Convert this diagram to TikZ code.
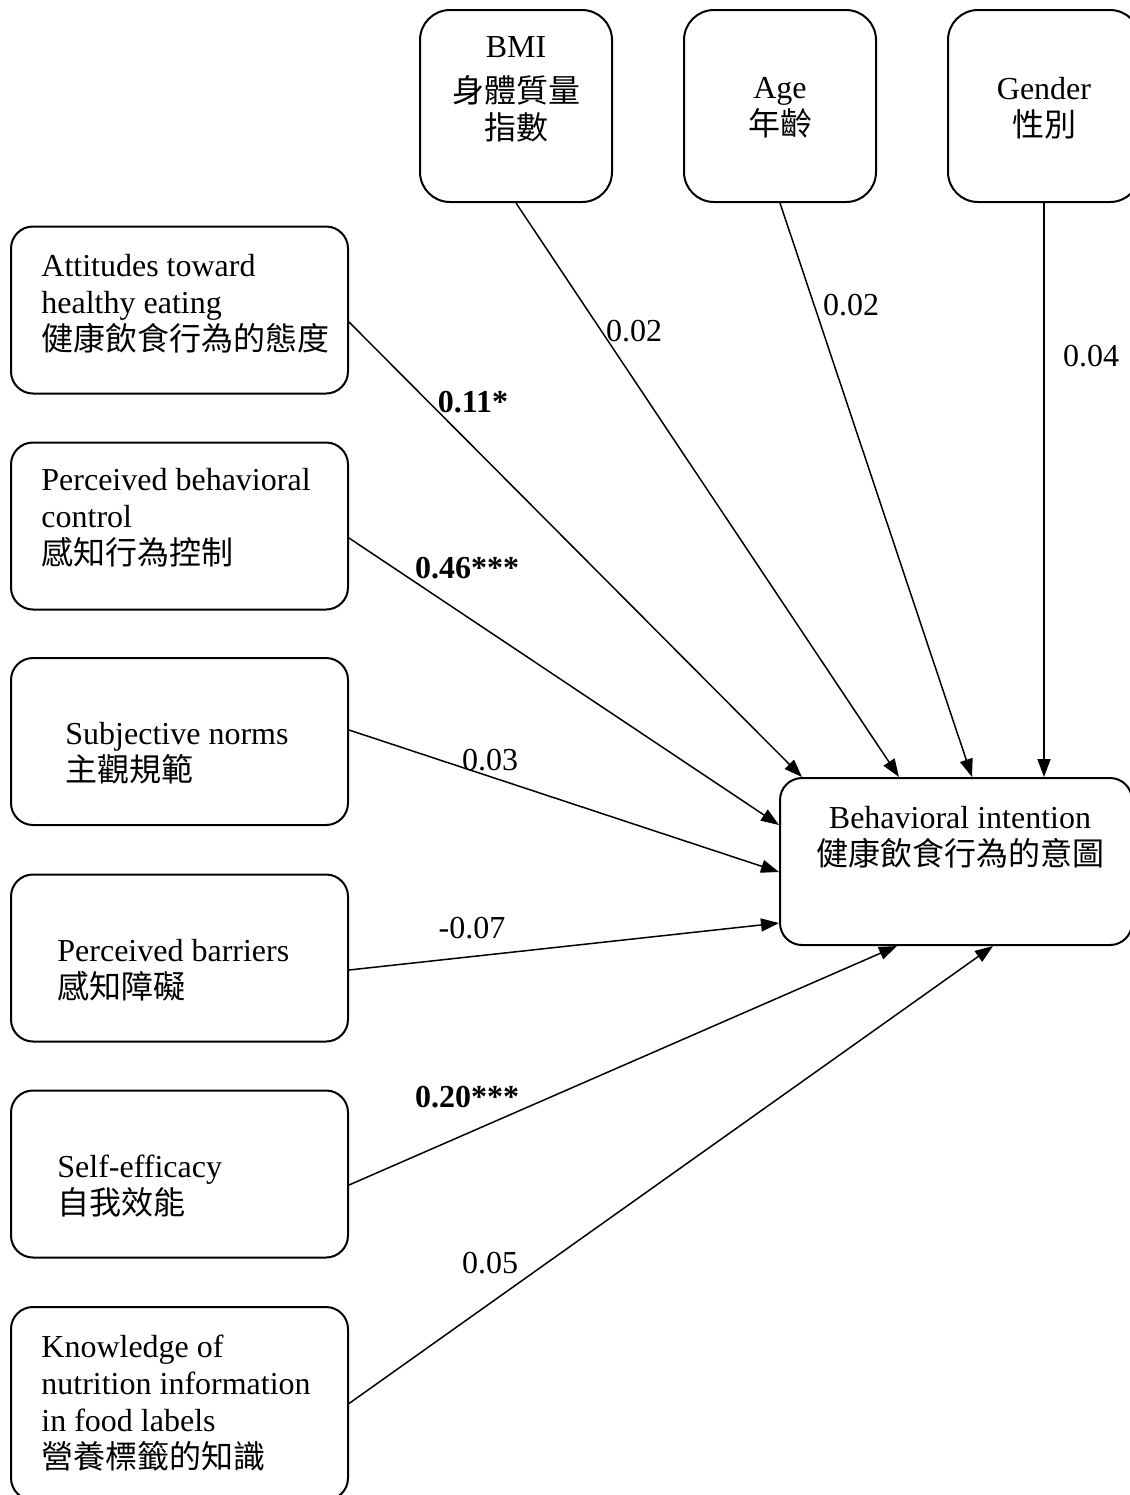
\documentclass[tikz,border=0pt]{standalone}
\usepackage{fontspec}
\setmainfont{Liberation Serif}
\newfontfamily\cjk{Noto Sans CJK TC}
\usetikzlibrary{arrows.meta}

\begin{document}
\begin{tikzpicture}[x=0.5pt, y=-0.5pt,
  every node/.style={font=\fontsize{16}{18.5}\selectfont, inner sep=0pt},
  box/.style={draw, line width=1pt, rounded corners=11pt, minimum width=168.5pt, minimum height=83.5pt},
  topbox/.style={draw, line width=1pt, rounded corners=15pt, minimum width=96pt, minimum height=96pt},
  txt/.style={align=left, anchor=west},
  ctxt/.style={align=center},
  path/.style={line width=0.75pt, -{Triangle[length=9pt,width=6.5pt]}}]
 \useasboundingbox (0,0) rectangle (1130,1495);
 \clip (0,0) rectangle (1130,1495);

 % left column
 \node[box] (att) at (179.5,310) {};
 \node[box] (pbc) at (179.5,526) {};
 \node[box] (sn) at (179.5,741.5) {};
 \node[box] (bar) at (179.5,958) {};
 \node[box] (se) at (179.5,1174) {};
 \node[box, minimum height=96.5pt] (kn) at (179.5,1403.5) {};
 \node[txt] (atttxt) at (41,304) {Attitudes toward\\healthy eating\\{\cjk 健康飲食行為的態度}};
 \node[txt] (pbctxt) at (41,518) {Perceived behavioral\\control\\{\cjk 感知行為控制}};
 \node[txt] (sntxt) at (65,753) {Subjective norms\\{\cjk 主觀規範}};
 \node[txt] (bartxt) at (57,970) {Perceived barriers\\{\cjk 感知障礙}};
 \node[txt] (setxt) at (57,1186) {Self-efficacy\\{\cjk 自我效能}};
 \node[txt] (kntxt) at (41,1403) {Knowledge of\\nutrition information\\in food labels\\{\cjk 營養標籤的知識}};

 % top row
 \node[topbox] (bmi) at (516,106) {};
 \node[topbox] (age) at (780,106) {};
 \node[topbox] (gen) at (1044,106) {};
 \node[ctxt] (bmitxt) at (516,89) {BMI\\[4pt]{\cjk 身體質量}\\{\cjk 指數}};
 \node[ctxt] (agetxt) at (780,108) {Age\\{\cjk 年齡}};
 \node[ctxt] (gentxt) at (1044,108) {Gender\\{\cjk 性別}};

 % outcome
 \node[box, minimum width=176pt] (bi) at (956,861.5) {};
 \node[ctxt] (bitxt) at (960,837) {Behavioral intention\\{\cjk 健康飲食行為的意圖}};

 % paths
 \draw[path] ([yshift=-6pt]att.east) -- ([xshift=11.5pt]bi.north west);
 \draw[path] ([yshift=-6pt]pbc.east) -- ([yshift=18.25pt]bi.west);
 \draw[path] ([yshift=5.75pt]sn.east) -- ([yshift=-5.25pt]bi.west);
 \draw[path] ([yshift=-6pt]bar.east) -- ([yshift=-30.75pt]bi.west);
 \draw[path] ([yshift=-5.5pt]se.east) -- ([xshift=-29.5pt]bi.south);
 \draw[path] (kn.east) -- ([xshift=18.5pt]bi.south);
 \draw[path] (bmi.south) -- ([xshift=-28.5pt]bi.north);
 \draw[path] (age.south) -- ([xshift=8pt]bi.north);
 \draw[path] (gen.south) -- ([xshift=44pt]bi.north);

 % coefficients
 \node (c11) at (473,402) {\textbf{0.11*}};
 \node (c46) at (467,568) {\textbf{0.46***}};
 \node (c03) at (490,760) {0.03};
 \node (c07) at (472,928) {-0.07};
 \node (c20) at (467,1097) {\textbf{0.20***}};
 \node (c05) at (490,1263) {0.05};
 \node (cbmi) at (634,331) {0.02};
 \node (cage) at (851,305) {0.02};
 \node (cgen) at (1091,356) {0.04};
\end{tikzpicture}
\end{document}
